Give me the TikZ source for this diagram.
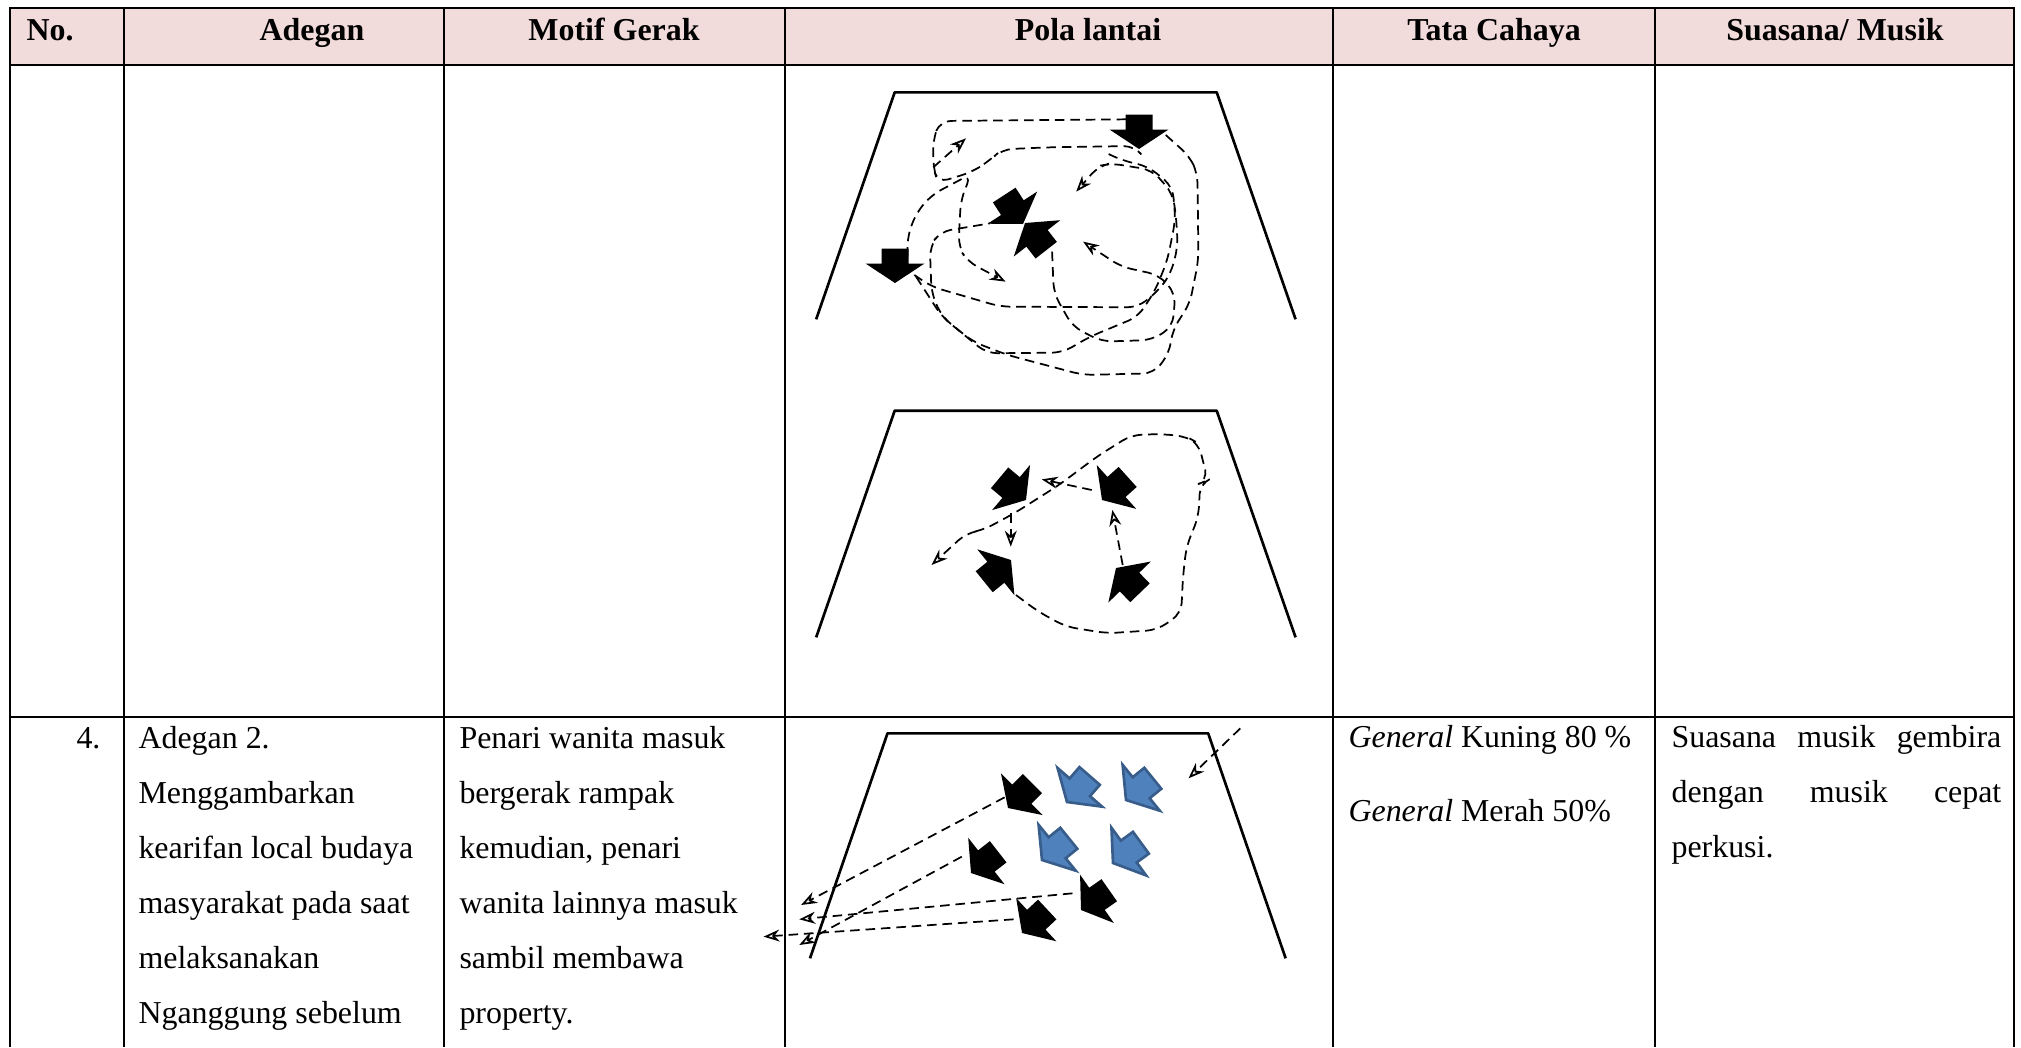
\documentclass[tikz,border=0pt]{standalone}
\usepackage{fontspec}
\setmainfont{Liberation Serif}
\usetikzlibrary{arrows.meta}
\definecolor{headpink}{HTML}{F2DCDB}
\definecolor{dancerblue}{HTML}{4F81BD}
\definecolor{dancerblueline}{HTML}{385D8A}

% block arrow marking one dancer: tip at (#2,#3), turned by #4 degrees
\newcommand\dancer[4][darkdancer]{%
  \path[#1, shift={(#2,#3)}, rotate=#4]
    (0,0) -- (-29.5,-19.5) -- (-13.5,-19.5) -- (-13.5,-34.5)
    -- (13.5,-34.5) -- (13.5,-19.5) -- (29.5,-19.5) -- cycle;}

\begin{document}
\begin{tikzpicture}[x=0.376pt,y=-0.376pt,
  grid/.style={line width=0.75pt},
  stage/.style={line width=1pt, line join=round},
  routeline/.style={line width=0.65pt, dash pattern=on 3.6pt off 2.2pt, rounded corners=4pt},
  moveto/.style={routeline, -{Stealth[open, length=6pt, width=4.5pt]}},
  darkdancer/.style={fill=black},
  bluedancer/.style={fill=dancerblue, draw=dancerblueline, line width=1pt},
  headtext/.style={anchor=base, inner sep=0pt, font=\fontsize{12}{14}\selectfont\bfseries},
  celltext/.style={anchor=base west, inner sep=0pt, font=\fontsize{12}{14}\selectfont}]

\useasboundingbox (0,0) rectangle (2021,1047);

% ---------- table ----------
\fill[headpink] (10,8) rectangle (2014,65);
\draw[grid] (10,1047) -- (10,8) -- (2014,8) -- (2014,1047);
\draw[grid] (10,65) -- (2014,65);
\draw[grid] (10,717) -- (2014,717);
\foreach \x in {124,444,785,1333,1655} \draw[grid] (\x,8) -- (\x,1047);

\node[headtext, anchor=base west] (hno) at (26,40) {No.};
\node[headtext] (hadegan) at (312,40) {Adegan};
\node[headtext] (hmotif) at (614,40) {Motif Gerak};
\node[headtext] (hpola) at (1088,40) {Pola lantai};
\node[headtext] (hcahaya) at (1494,40) {Tata Cahaya};
\node[headtext] (hmusik) at (1835,40) {Suasana/ Musik};

% ---------- row 4 texts ----------
\node[celltext, anchor=base east] (no4) at (101,748) {4.};
\node[celltext] (ad1) at (138,748) {Adegan 2.};
\node[celltext] (ad2) at (138,803) {Menggambarkan};
\node[celltext] (ad3) at (138,858) {kearifan local budaya};
\node[celltext] (ad4) at (138,913) {masyarakat pada saat};
\node[celltext] (ad5) at (138,968) {melaksanakan};
\node[celltext] (ad6) at (138,1023) {Nganggung sebelum};

\node[celltext] (mg1) at (459,748) {Penari wanita masuk};
\node[celltext] (mg2) at (459,803) {bergerak rampak};
\node[celltext] (mg3) at (459,858) {kemudian, penari};
\node[celltext] (mg4) at (459,913) {wanita lainnya masuk};
\node[celltext] (mg5) at (459,968) {sambil membawa};
\node[celltext] (mg6) at (459,1023) {property.};

\node[celltext] (tc1) at (1348,747) {\textit{General} Kuning 80 \%};
\node[celltext] (tc2) at (1348,821) {\textit{General} Merah 50\%};

\node[celltext] (sm1) at (1671,747) {\makebox[124pt][s]{Suasana musik gembira}};
\node[celltext] (sm2) at (1671,802) {\makebox[124pt][s]{dengan musik cepat}};
\node[celltext] (sm3) at (1671,857) {perkusi.};

% ---------- floor pattern 1: crossing routes ----------
\begin{scope}[shift={(780,60)}, xscale=0.3444, yscale=0.3333]
  \draw[stage] (105,778) -- (333,97) -- (1268,97) -- (1497,778);
  \draw[routeline] (1005,178) -- (465,183) -- (445,235) -- (445,322) -- (458,368)
    -- (560,335) -- (610,300) -- (645,268) -- (780,262) -- (1030,258) -- (1045,278);
  \draw[moveto] (445,322) -- (540,235);
  \draw[routeline] (1120,225) -- (1190,290) -- (1212,340) -- (1215,600) -- (1190,730)
    -- (1140,810) -- (1130,880) -- (1085,940) -- (880,945) -- (660,885) -- (560,845)
    -- (470,770) -- (440,700) -- (435,560) -- (465,515) -- (610,490);
  \draw[moveto] (370,590) -- (370,530) -- (395,460) -- (440,405) -- (555,342)
    -- (525,420) -- (518,560) -- (545,605) -- (655,665);
  \draw[moveto] (390,645) -- (440,680) -- (640,740) -- (1040,742) -- (1100,690)
    -- (1135,640) -- (1155,560) -- (1150,470) -- (1140,400) -- (1080,330)
    -- (960,310) -- (925,318) -- (860,395);
  \draw[moveto] (790,575) -- (795,700) -- (850,800) -- (935,845) -- (1080,840)
    -- (1140,800) -- (1148,700) -- (1100,645) -- (990,620) -- (880,545);
  \draw[routeline] (395,650) -- (470,770) -- (600,880) -- (820,878) -- (900,830)
    -- (1040,770) -- (1090,690) -- (1125,600) -- (1148,480) -- (1140,380)
    -- (1070,320) -- (990,300) -- (950,280);
\end{scope}
\dancer{1139}{149}{0}
\dancer{895}{283}{0}
\dancer{1023}{224}{33}
\dancer{1025}{223}{-142}

% ---------- floor pattern 2: four dancers facing in ----------
\begin{scope}[shift={(780,390)}, xscale=0.3444, yscale=0.3333]
  \draw[stage] (105,742) -- (333,62) -- (1268,62) -- (1497,742);
  \draw[moveto] (905,300) -- (760,268);
  \draw[moveto] (670,370) -- (670,470);
  \draw[moveto] (995,525) -- (965,360);
  \draw[moveto] (685,615) -- (750,665) -- (830,710) -- (950,730) -- (1095,720)
    -- (1165,670) -- (1170,560) -- (1180,470) -- (1215,380) -- (1220,280)
    -- (1242,270) -- (1215,160) -- (1180,140) -- (1110,132) -- (1020,135)
    -- (920,200) -- (810,285) -- (680,370) -- (590,420) -- (540,430) -- (440,525);
\end{scope}
\dancer{1026}{500}{50}
\dancer{1102}{500}{-48}
\dancer{1011}{560}{129}
\dancer{1116}{568}{-136}

% ---------- floor pattern 3: exit to the left ----------
\begin{scope}[shift={(760,710)}, xscale=0.3571, yscale=0.3333]
  \draw[stage] (140,745) -- (357,70) -- (1255,70) -- (1472,745);
  \draw[moveto] (685,262) -- (115,585);
  \draw[moveto] (565,440) -- (110,705);
  \draw[moveto] (875,550) -- (110,628);
  \draw[moveto] (710,628) -- (10,680);
  \draw[moveto] (1345,55) -- (1200,205);
\end{scope}
\dancer{1008}{808}{-45}
\dancer{971}{873}{-52}
\dancer{1081}{910}{-55}
\dancer{1022}{933}{-47}
\dancer[bluedancer]{1067}{802}{-41}
\dancer[bluedancer]{1126}{800}{-51}
\dancer[bluedancer]{1042}{860}{-51}
\dancer[bluedancer]{1113}{863}{-54}

\end{tikzpicture}
\end{document}
